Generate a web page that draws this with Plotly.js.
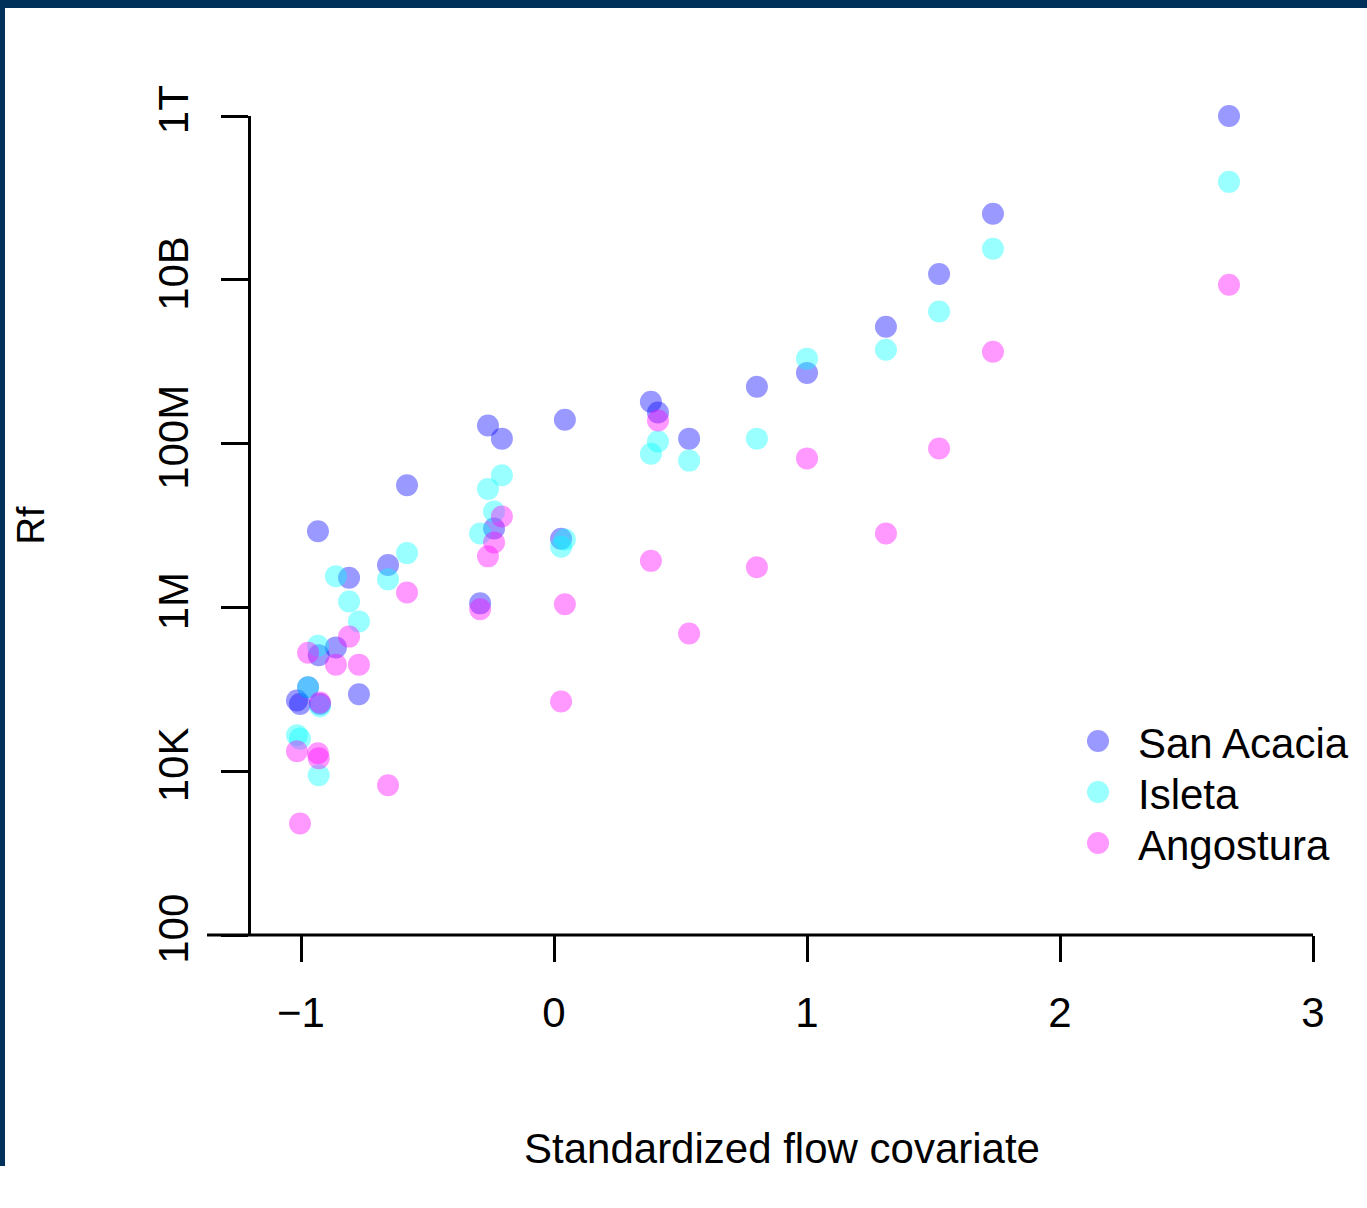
<!DOCTYPE html>
<html>
<head>
<meta charset="utf-8">
<script src="https://cdn.plot.ly/plotly-3.0.1.min.js"></script>
<style>html,body{margin:0;padding:0;background:#fff;}#chart{width:1367px;height:1208px;}</style>
</head>
<body>
<div id="chart"></div>
<script>
const flow = [-1.016,-1.004,-0.972,-0.933,-0.930,-0.925,-0.862,-0.810,-0.771,-0.656,-0.581,-0.292,-0.261,-0.237,-0.206,0.028,0.043,0.383,0.411,0.534,0.802,1.000,1.312,1.522,1.735,2.668];
const sanAcacia = [7.3e4,6.6e4,1.06e5,8.5e6,2.6e5,6.6e4,3.25e5,2.3e6,8.7e4,3.3e6,3.1e7,1.12e6,1.66e8,9.2e6,1.15e8,6.9e6,1.96e8,3.25e8,2.4e8,1.15e8,4.95e8,7.3e8,2.67e9,1.18e10,6.4e10,1.0e12];
const isleta = [2.75e4,2.5e4,1.06e5,3.4e5,8.9e3,6.2e4,2.4e6,1.18e6,6.75e5,2.2e6,4.6e6,8.0e6,2.8e7,1.48e7,4.1e7,5.5e6,6.75e6,7.5e7,1.06e8,6.2e7,1.15e8,1.09e9,1.4e9,4.1e9,2.4e10,1.57e11];
const angostura = [1.75e4,2.3e3,2.8e5,1.66e4,1.44e4,6.9e4,2.0e5,4.4e5,2.0e5,6.75e3,1.52e6,9.5e5,4.2e6,6.2e6,1.29e7,7.1e4,1.09e6,3.7e6,1.91e8,4.8e5,3.1e6,6.6e7,8.0e6,8.7e7,1.32e9,8.7e9];
const seriesNames = ['San Acacia','Isleta','Angostura'];
const xTickVals = [-1,0,1,2,3];
const xTickText = ['\u22121','0','1','2','3'];
const yTickVals = [1e2,1e4,1e6,1e8,1e10,1e12];
const yTickText = ['100','10K','1M','100M','10B','1T'];

const colors = ['rgba(0,0,255,0.4)','rgba(0,255,255,0.4)','rgba(255,0,255,0.4)'];
const ys = [sanAcacia, isleta, angostura];
const traces = ys.map((y,i)=>({
  type:'scatter', mode:'markers', x: flow, y: y, name: seriesNames[i],
  cliponaxis:false, showlegend:false,
  marker:{size:22, color:colors[i], line:{width:0}}
}));

// plot area in pixels: left 250, right 1313, top 116, bottom 935
const L=251, R=1313, T=116, B=935, W=R-L, H=B-T;
const px = v => (v-L)/W;
const py = v => (B-v)/H;

const shapes = [
  {type:'line', xref:'paper', yref:'paper', x0:px(207), x1:px(1313), y0:0, y1:0, line:{color:'#000', width:3}},
  {type:'rect', xref:'paper', yref:'paper', x0:px(0), x1:px(1367), y0:py(0), y1:py(8), fillcolor:'#00315a', line:{width:0}},
  {type:'rect', xref:'paper', yref:'paper', x0:px(0), x1:px(5), y0:py(0), y1:py(1166), fillcolor:'#00315a', line:{width:0}}
];
const annotations = [];
// legend (keys + labels) built from the series names and colours
const legX = 1098, legY0 = 741, legDy = 51, legR = 11;
seriesNames.forEach((n,i)=>{
  const cy = legY0 + i*legDy;
  shapes.push({type:'circle', xref:'paper', yref:'paper', x0:px(legX-legR), x1:px(legX+legR),
               y0:py(cy+legR), y1:py(cy-legR), fillcolor:colors[i], line:{width:0}});
  annotations.push({xref:'paper', yref:'paper', x:px(1136), y:py(cy+2), xanchor:'left', yanchor:'middle',
                    text:n, showarrow:false, font:{size:42, color:'#000'}});
});

const layout = {
  width:1367, height:1208,
  margin:{l:L, r:1367-R, t:T, b:1208-B, pad:0},
  paper_bgcolor:'#ffffff', plot_bgcolor:'#ffffff',
  font:{family:'Liberation Sans, Arial, sans-serif', color:'#000'},
  showlegend:false,
  xaxis:{range:[-1-50/253, 3], tickvals:xTickVals, ticktext:xTickText, showgrid:false, zeroline:false,
         showline:false, ticks:'outside', ticklen:26, tickwidth:3, tickcolor:'#000', ticklabelstandoff:15,
         tickfont:{size:42}, title:{text:'Standardized flow covariate', font:{size:42}, standoff:98}},
  yaxis:{type:'log', range:[2,12], tickvals:yTickVals, ticktext:yTickText, showgrid:false, zeroline:false,
         showline:true, linewidth:3, linecolor:'#000', ticks:'outside', ticklen:27, tickwidth:3, tickcolor:'#000',
         ticklabelstandoff:16, tickangle:-90, tickfont:{size:42}, title:{text:'Rf', font:{size:38}, standoff:94}},
  shapes: shapes,
  annotations: annotations
};
Plotly.newPlot('chart', traces, layout, {staticPlot:true, displayModeBar:false});
</script>
</body>
</html>
